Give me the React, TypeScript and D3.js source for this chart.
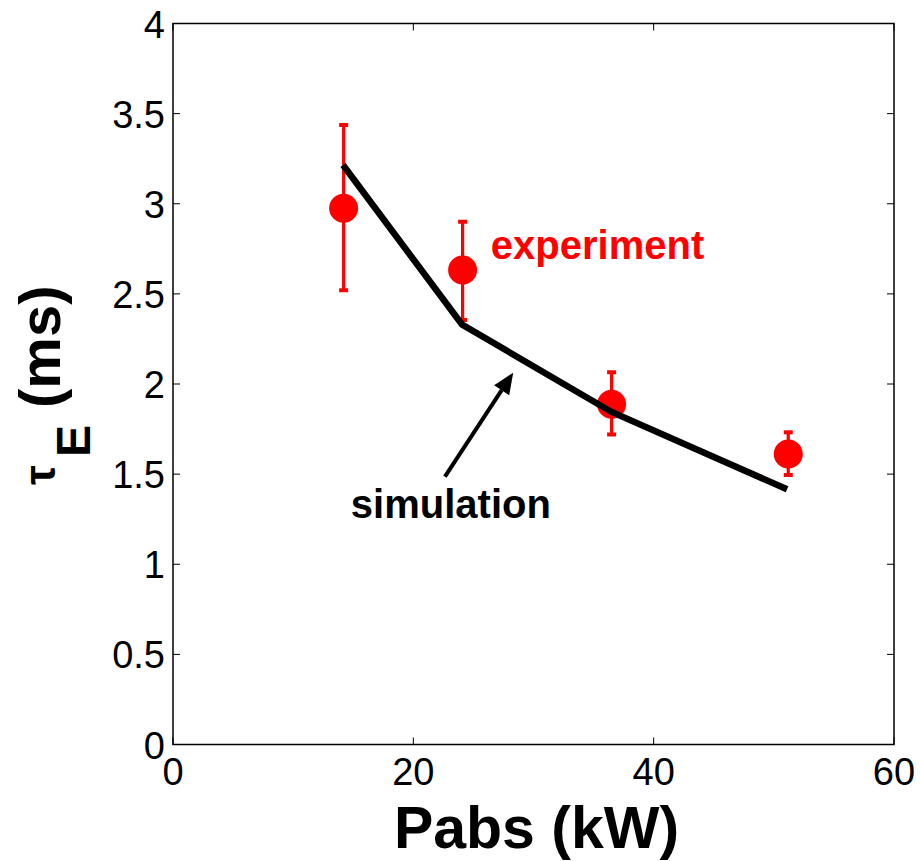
import React from "react";
import * as d3 from "d3";

// Data
const pabs = [14.2, 24.1, 36.5, 51.2];
const expTau = [2.975, 2.632, 1.887, 1.612];
const expLow = [2.52, 2.355, 1.72, 1.495];
const expHigh = [3.437, 2.9, 2.065, 1.732];
const simPabs = [14.15, 24.05, 36.5, 51.1];
const simTau = [3.215, 2.33, 1.845, 1.416];
const xTicks = [0, 20, 40, 60];
const yTicks = [0, 0.5, 1, 1.5, 2, 2.5, 3, 3.5, 4];
const yTickLabels = ["0", "0.5", "1", "1.5", "2", "2.5", "3", "3.5", "4"];
const expLabel = { x: 26.45, y: 2.692, text: "experiment" };
const simLabel = { x: 14.8, y: 1.254, text: "simulation" };
const arrowFrom = { x: 22.63, y: 1.486 };
const arrowTo = { x: 28.31, y: 2.063 };

const W = 920;
const H = 861;
const M = { left: 173, right: 920 - 894, top: 23.5, bottom: 861 - 744.5 };
const FONT = "'Liberation Sans', Arial, Helvetica, sans-serif";

export default function App() {
  const x = d3.scaleLinear().domain([0, 60]).range([M.left, W - M.right]);
  const y = d3.scaleLinear().domain([0, 4]).range([H - M.bottom, M.top]);
  const x0 = x.range()[0], x1 = x.range()[1];
  const y0 = y.range()[0], y1 = y.range()[1];
  const tickLen = 7;

  const line = d3
    .line<number>()
    .x((_, i) => x(simPabs[i]))
    .y((d) => y(d));

  // arrow geometry
  const ax0 = x(arrowFrom.x), ay0 = y(arrowFrom.y);
  const ax1 = x(arrowTo.x), ay1 = y(arrowTo.y);
  const ang = Math.atan2(ay1 - ay0, ax1 - ax0);
  const headL = 21, headW = 9;
  const bx = ax1 - headL * Math.cos(ang), by = ay1 - headL * Math.sin(ang);
  const px = -Math.sin(ang), py = Math.cos(ang);
  const head = `M${ax1},${ay1} L${bx + px * headW},${by + py * headW} L${bx - px * headW},${by - py * headW} Z`;

  return (
    <svg
      width={W}
      height={H}
      style={{ position: "absolute", left: 0, top: 0, background: "#fff" }}
      fontFamily={FONT}
    >
      <rect x={0} y={0} width={W} height={H} fill="#fff" />
      {/* axes box */}
      <rect x={x0} y={y1} width={x1 - x0} height={y0 - y1} fill="none" stroke="#000" strokeWidth={1.5} />
      {/* x ticks */}
      {xTicks.map((t) => (
        <g key={"xt" + t}>
          <line x1={x(t)} x2={x(t)} y1={y0} y2={y0 - tickLen} stroke="#000" strokeWidth={1} />
          <line x1={x(t)} x2={x(t)} y1={y1} y2={y1 + tickLen} stroke="#000" strokeWidth={1} />
          <text x={x(t)} y={785} fontSize={38} textAnchor="middle" fill="#000">
            {t}
          </text>
        </g>
      ))}
      {/* y ticks */}
      {yTicks.map((t, i) => (
        <g key={"yt" + t}>
          <line x1={x0} x2={x0 + tickLen} y1={y(t)} y2={y(t)} stroke="#000" strokeWidth={1} />
          <line x1={x1} x2={x1 - tickLen} y1={y(t)} y2={y(t)} stroke="#000" strokeWidth={1} />
          <text x={165} y={y(t) + 14} fontSize={38} textAnchor="end" fill="#000">
            {yTickLabels[i]}
          </text>
        </g>
      ))}
      {/* x label */}
      <text x={(x0 + x1) / 2 + 3} y={848} fontSize={59} fontWeight="bold" textAnchor="middle" fill="#000">
        Pabs (kW)
      </text>
      {/* y label */}
      <g transform={`translate(0, 495) rotate(-90)`} fontWeight="bold" fill="#000">
        <text x={10} y={55} fontSize={44}>τ</text>
        <text x={38} y={90} fontSize={48}>E</text>
        <text x={87} y={60} fontSize={58}>(ms)</text>
      </g>
      {/* experiment error bars and markers */}
      {pabs.map((p, i) => (
        <g key={"e" + i} stroke="#ff0000" fill="#ff0000">
          <line x1={x(p)} x2={x(p)} y1={y(expLow[i])} y2={y(expHigh[i])} strokeWidth={3.2} />
          <line x1={x(p) - 4.5} x2={x(p) + 4.5} y1={y(expLow[i])} y2={y(expLow[i])} strokeWidth={4} />
          <line x1={x(p) - 4.5} x2={x(p) + 4.5} y1={y(expHigh[i])} y2={y(expHigh[i])} strokeWidth={4} />
          <circle cx={x(p)} cy={y(expTau[i])} r={14.5} stroke="none" />
        </g>
      ))}
      {/* simulation line */}
      <path d={line(simTau) || ""} fill="none" stroke="#000" strokeWidth={6.5} strokeLinejoin="miter" />
      {/* annotations */}
      <text x={x(expLabel.x)} y={y(expLabel.y)} fontSize={40} fontWeight="bold" fill="#ff0000">
        {expLabel.text}
      </text>
      <text x={x(simLabel.x)} y={y(simLabel.y)} fontSize={40} fontWeight="bold" fill="#000">
        {simLabel.text}
      </text>
      <line x1={ax0} y1={ay0} x2={bx} y2={by} stroke="#000" strokeWidth={4} />
      <path d={head} fill="#000" />
    </svg>
  );
}
